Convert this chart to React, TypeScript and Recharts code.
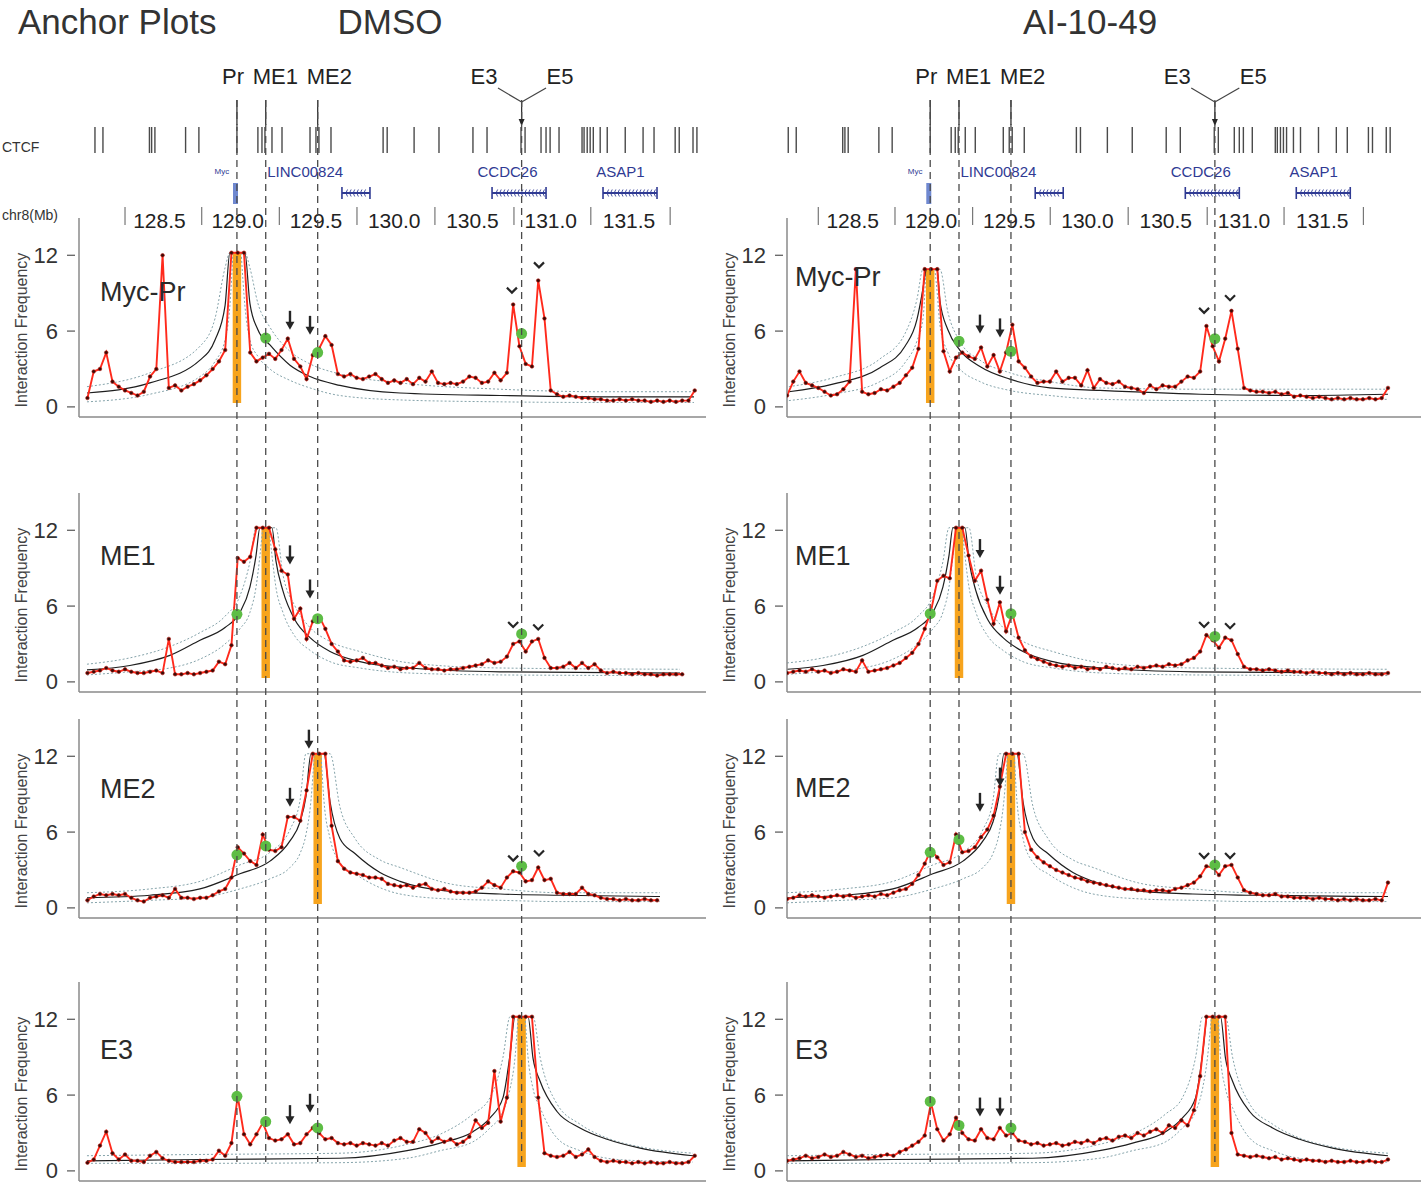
import React from 'react';
import {
  ComposedChart,
  Line,
  Scatter,
  XAxis,
  YAxis,
  ReferenceArea,
  ReferenceLine,
} from 'recharts';

const FONT = '"Liberation Sans", Arial, Helvetica, sans-serif';
const RED = '#ff2a1c';
const ORANGE = '#f7a41d';
const GREEN = '#5dbd45';
const BAND = '#86a4ab';
const INK = '#262626';
const NAVY = '#2f3a93';
const AXIS = '#8a8a8a';

// 4C bins along chr8 (Mb)
const POS = [
  128.04, 128.08, 128.12, 128.16, 128.2, 128.24, 128.28, 128.32, 128.36, 128.4,
  128.44, 128.48, 128.52, 128.56, 128.6, 128.64, 128.68, 128.72, 128.76, 128.8,
  128.84, 128.88, 128.92, 128.96, 129.0, 129.04, 129.08, 129.12, 129.16, 129.2,
  129.24, 129.28, 129.32, 129.36, 129.4, 129.44, 129.48, 129.52, 129.56, 129.6,
  129.64, 129.68, 129.72, 129.76, 129.8, 129.84, 129.88, 129.92, 129.96, 130.0,
  130.04, 130.08, 130.12, 130.16, 130.2, 130.24, 130.28, 130.32, 130.36, 130.4,
  130.44, 130.48, 130.52, 130.56, 130.6, 130.64, 130.68, 130.72, 130.76, 130.8,
  130.84, 130.88, 130.92, 130.96, 131.0, 131.04, 131.08, 131.12, 131.16, 131.2,
  131.24, 131.28, 131.32, 131.36, 131.4, 131.44, 131.48, 131.52, 131.56, 131.6,
  131.64, 131.68, 131.72, 131.76, 131.8, 131.84, 131.88, 131.92,
];

// viewpoints
const PR = 128.995;
const ME1 = 129.179;
const ME2 = 129.511;
const E3 = 130.814;

// ---- DMSO interaction frequencies ----
const MYC_PR_DMSO = [
  0.7, 2.8, 3.0, 4.3, 2.0, 1.6, 1.3, 1.1, 0.9, 1.2,
  2.4, 3.0, 12.0, 1.5, 1.7, 1.3, 1.6, 1.8, 2.1, 2.5,
  3.0, 3.6, 4.5, 12.2, 12.2, 12.2, 4.3, 3.6, 3.9, 4.2,
  3.8, 4.5, 5.4, 3.8, 3.2, 2.2, 4.1, 4.6, 5.6, 4.9,
  2.6, 2.4, 2.6, 2.3, 2.2, 2.4, 2.6, 2.2, 1.9, 2.1,
  1.9, 2.2, 1.8, 2.3, 2.0, 2.8, 1.9, 1.8, 1.9, 1.8,
  2.0, 2.4, 2.3, 1.9, 2.0, 2.7, 2.1, 2.7, 8.1, 4.8,
  3.4, 3.2, 10.0, 7.0, 1.3, 1.0, 0.8, 0.9, 0.8, 0.7,
  0.7, 0.6, 0.6, 0.5, 0.5, 0.6, 0.5, 0.6, 0.5, 0.5,
  0.4, 0.5, 0.4, 0.5, 0.4, 0.5, 0.5, 1.3,
];
const ME1_DMSO = [
  0.7, 0.8, 0.9, 1.1, 0.9, 0.8, 1.0, 0.8, 0.7, 0.7,
  0.8, 0.9, 0.7, 3.4, 0.6, 0.6, 0.7, 0.6, 0.7, 0.8,
  0.9, 1.6, 1.4, 2.9, 9.8, 9.5, 9.9, 12.2, 12.2, 12.2,
  10.5, 8.8, 8.5, 5.0, 5.8, 3.4, 4.8, 5.2, 4.2, 3.0,
  2.4, 1.7, 1.6, 1.7, 1.9, 1.5, 1.5, 1.3, 1.1, 1.2,
  1.0, 1.1, 1.1, 1.5, 1.1, 1.0, 1.0, 0.9, 1.0, 1.0,
  1.1, 1.2, 1.3, 1.4, 1.7, 1.5, 1.6, 2.0, 3.0, 3.2,
  2.4, 3.2, 3.4, 1.9, 1.1, 1.1, 1.2, 1.5, 1.1, 1.5,
  1.1, 1.4, 0.9, 0.7, 0.8, 0.7, 0.7, 0.6, 0.7, 0.6,
  0.6, 0.5, 0.6, 0.6, 0.6, 0.6, null, null,
];
const ME2_DMSO = [
  0.6, 0.9, 1.1, 1.0, 1.1, 1.0, 1.1, 0.8, 0.6, 0.5,
  0.8, 0.9, 1.0, 0.8, 1.5, 0.8, 0.8, 0.7, 0.8, 0.8,
  1.0, 1.3, 1.5, 2.4, 4.8, 4.3, 3.7, 3.4, 5.8, 4.6,
  4.5, 4.8, 7.2, 7.2, 6.9, 9.3, 12.2, 12.2, 12.2, 6.5,
  3.7, 3.1, 2.8, 2.7, 2.6, 2.4, 2.4, 2.3, 1.9, 1.8,
  1.7, 1.8, 1.6, 1.8, 1.9, 1.5, 1.4, 1.5, 1.3, 1.2,
  1.2, 1.2, 1.3, 1.6, 2.1, 1.8, 1.6, 2.4, 2.9, 2.8,
  2.1, 2.2, 3.2, 2.2, 2.3, 1.2, 1.1, 1.1, 1.1, 1.6,
  1.1, 1.0, 0.8, 0.7, 0.7, 0.6, 0.7, 0.6, 0.6, 0.7,
  0.6, 0.6, null, null, null, null, null, null,
];
const E3_DMSO = [
  0.65, 0.9, 2.0, 3.1, 1.4, 0.9, 1.3, 0.8, 0.8, 0.7,
  1.2, 1.5, 1.0, 0.8, 0.7, 0.7, 0.7, 0.7, 0.8, 0.8,
  0.9, 1.6, 1.2, 2.2, 5.9, 2.9, 2.1, 2.9, 3.8, 2.6,
  2.4, 2.5, 2.9, 2.1, 2.2, 2.9, 3.4, 3.0, 2.5, 2.6,
  2.2, 2.1, 2.2, 2.0, 2.2, 2.1, 2.0, 2.2, 2.0, 2.4,
  2.6, 2.3, 2.3, 3.3, 3.0, 2.3, 2.6, 2.3, 2.5, 2.1,
  2.3, 2.7, 4.0, 3.4, 3.8, 7.9, 3.9, 5.8, 12.2, 12.2,
  12.2, 12.2, 5.8, 1.4, 1.2, 1.1, 1.2, 1.5, 1.1, 1.3,
  1.7, 1.1, 0.8, 0.7, 0.8, 0.7, 0.7, 0.6, 0.7, 0.6,
  0.7, 0.6, 0.6, 0.7, 0.6, 0.6, 0.7, 1.2,
];

// ---- AI-10-49 interaction frequencies ----
const MYC_PR_AI = [
  null, 0.9, 2.0, 2.8, 1.9, 1.7, 1.5, 1.2, 0.9, 1.0,
  1.4, 2.0, 10.9, 1.2, 1.0, 1.1, 1.4, 1.3, 1.6, 1.9,
  2.5, 3.1, 4.6, 10.9, 10.9, 10.9, 4.4, 2.8, 3.9, 4.3,
  4.0, 3.8, 4.7, 3.2, 4.1, 2.8, 4.3, 6.5, 3.6, 3.1,
  2.4, 1.9, 2.0, 2.0, 2.8, 2.0, 2.3, 2.3, 1.7, 2.9,
  1.5, 2.2, 1.9, 1.8, 2.0, 1.6, 1.5, 1.4, 1.1, 1.7,
  1.4, 1.7, 1.6, 1.6, 2.0, 2.4, 2.3, 2.8, 6.4, 4.8,
  3.6, 5.4, 7.6, 4.6, 1.5, 1.3, 1.2, 1.2, 1.1, 1.2,
  1.0, 1.1, 0.8, 0.9, 0.8, 0.7, 0.8, 0.7, 0.6, 0.7,
  0.6, 0.7, 0.6, 0.6, 0.7, 0.6, 0.7, 1.5,
];
const ME1_AI = [
  null, 0.7, 0.8, 0.9, 0.8, 1.0, 0.8, 0.9, 0.7, 0.8,
  1.0, 0.9, 0.8, 1.7, 0.8, 0.9, 1.0, 1.1, 1.3, 1.5,
  1.9, 2.3, 3.0, 4.2, 5.6, 8.0, 8.4, 8.2, 12.2, 12.2,
  10.0, 8.0, 8.8, 6.5, 4.6, 6.3, 4.0, 5.4, 3.5, 2.5,
  2.0, 1.8, 1.6, 1.4, 1.3, 1.2, 1.3, 1.1, 1.2, 1.0,
  1.1, 1.0, 1.2, 1.1, 1.0, 1.1, 1.0, 1.2, 1.1, 1.2,
  1.3, 1.2, 1.4, 1.3, 1.4, 1.7, 1.9, 2.4, 3.7, 3.3,
  2.7, 3.5, 3.3, 2.2, 1.2, 1.0, 1.0, 0.9, 1.0, 0.9,
  0.8, 0.9, 0.8, 0.8, 0.7, 0.8, 0.7, 0.7, 0.6, 0.7,
  0.6, 0.7, 0.6, 0.6, 0.7, 0.6, 0.6, 0.7,
];
const ME2_AI = [
  null, 0.7, 0.8, 1.0, 0.9, 1.0, 0.9, 0.8, 0.9, 1.0,
  0.9, 1.0, 0.8, 0.9, 1.0, 0.9, 1.1, 1.0, 1.2, 1.4,
  1.5, 1.9, 2.6, 3.5, 4.6, 4.0, 3.4, 3.6, 5.8, 4.4,
  4.5, 4.8, 5.6, 6.2, 7.3, 9.6, 12.2, 12.2, 12.2, 6.0,
  4.6, 4.0, 3.6, 3.3, 3.0, 2.8, 2.6, 2.4, 2.3, 2.1,
  2.0, 1.9, 1.8, 1.7, 1.6, 1.5, 1.5, 1.4, 1.4, 1.3,
  1.4, 1.4, 1.3, 1.5, 1.6, 1.8, 2.0, 2.5, 3.3, 3.2,
  2.6, 3.3, 3.4, 2.4, 1.4, 1.2, 1.1, 1.0, 1.0, 1.1,
  0.9, 0.9, 0.8, 0.8, 0.8, 0.7, 0.8, 0.7, 0.7, 0.6,
  0.7, 0.6, 0.7, 0.6, 0.6, 0.7, 0.6, 2.0,
];
const E3_AI = [
  null, 0.8, 0.9, 1.0, 1.2, 1.0, 1.1, 1.3, 1.1, 1.2,
  1.5, 1.3, 1.1, 1.2, 1.0, 1.1, 1.2, 1.3, 1.2, 1.5,
  1.7, 2.0, 2.3, 2.8, 5.4, 3.3, 2.4, 2.9, 4.2, 3.0,
  2.5, 2.4, 3.3, 2.6, 2.5, 3.4, 2.8, 3.0, 2.4, 2.3,
  2.1, 2.2, 2.0, 2.1, 2.2, 2.0, 2.1, 2.3, 2.2, 2.4,
  2.2, 2.5, 2.6, 2.4, 2.7, 2.8, 2.6, 3.0, 2.8, 3.1,
  3.3, 3.0, 3.6, 3.4, 4.0, 3.6, 4.8, 7.5, 12.2, 12.2,
  12.2, 12.2, 3.0, 1.3, 1.2, 1.1, 1.2, 1.1, 1.0, 1.1,
  0.9, 1.0, 0.9, 0.8, 0.9, 0.8, 0.8, 0.7, 0.8, 0.7,
  0.7, 0.8, 0.7, 0.7, 0.8, 0.7, 0.7, 0.9,
];

// ---- expected (black) and confidence band (dotted) ----
const FIT_POS_MYC_DMSO = [128.037, 128.439, 128.759, 128.855, 128.919, 128.95, 128.97, 128.995, 129.022, 129.046, 129.078, 129.129, 129.206, 129.334, 129.462, 129.653, 130.037, 130.676, 131.315, 131.915];
const FIT_MID_MYC_DMSO = [1.1, 1.9, 3.7, 5.3, 8.0, 12.2, 12.2, null, 12.2, 12.2, 8.2, 6.1, 4.9, 3.3, 2.4, 1.7, 1.1, 0.9, 0.8, 0.8];
const FIT_HI_MYC_DMSO = [1.6, 2.7, 4.8, 7.0, 11.0, 12.2, 12.2, null, 12.2, 12.2, 11.0, 8.2, 6.3, 4.4, 3.4, 2.6, 1.9, 1.4, 1.2, 1.2];
const FIT_LO_MYC_DMSO = [0.4, 1.0, 2.4, 3.6, 5.3, 8.0, 12.2, null, 12.2, 8.0, 5.3, 4.0, 3.0, 2.1, 1.5, 0.9, 0.55, 0.4, 0.35, 0.35];

const FIT_POS_ME1_DMSO = [128.037, 128.311, 128.567, 128.759, 128.919, 129.014, 129.078, 129.117, 129.142, 129.16, 129.179, 129.2, 129.219, 129.244, 129.289, 129.366, 129.462, 129.59, 129.781, 130.101, 130.676, 131.826];
const FIT_MID_ME1_DMSO = [0.95, 1.3, 2.1, 3.3, 4.3, 5.5, 7.5, 10.0, 12.2, 12.2, null, 12.2, 12.2, 9.6, 7.2, 4.9, 3.5, 2.4, 1.6, 1.1, 0.8, 0.7];
const FIT_HI_ME1_DMSO = [1.4, 1.9, 2.8, 3.9, 5.2, 6.8, 9.5, 12.2, 12.2, 12.2, null, 12.2, 12.2, 12.2, 8.5, 6.0, 4.3, 3.2, 2.4, 1.5, 1.1, 1.0];
const FIT_LO_ME1_DMSO = [0.55, 0.8, 1.1, 1.8, 3.0, 4.2, 5.5, 7.5, 10.0, 12.2, null, 12.2, 10.0, 7.5, 5.5, 3.6, 2.5, 1.6, 1.1, 0.7, 0.55, 0.5];

const FIT_POS_ME2_DMSO = [128.037, 128.439, 128.759, 129.014, 129.206, 129.334, 129.398, 129.436, 129.468, 129.49, 129.511, 129.532, 129.551, 129.59, 129.653, 129.749, 129.909, 130.037, 130.357, 130.676, 131.06, 131.698];
const FIT_MID_ME2_DMSO = [0.8, 1.0, 1.5, 2.7, 3.7, 5.3, 6.8, 8.8, 12.2, 12.2, null, 12.2, 12.2, 8.4, 5.5, 4.3, 2.8, 2.1, 1.3, 1.1, 1.0, 0.9];
const FIT_HI_ME2_DMSO = [1.2, 1.5, 2.1, 3.4, 4.4, 6.2, 8.5, 12.2, 12.2, 12.2, null, 12.2, 12.2, 12.2, 8.0, 5.5, 3.8, 3.2, 1.9, 1.5, 1.2, 1.2];
const FIT_LO_ME2_DMSO = [0.4, 0.6, 0.8, 1.5, 2.3, 3.2, 4.3, 5.8, 8.5, 12.2, null, 12.2, 8.5, 5.5, 3.6, 2.7, 1.6, 1.1, 0.7, 0.6, 0.5, 0.5];

const FIT_POS_E3_DMSO = [128.037, 128.759, 129.653, 130.082, 130.293, 130.503, 130.612, 130.695, 130.74, 130.772, 130.792, 130.814, 130.836, 130.855, 130.887, 130.932, 131.04, 131.187, 131.36, 131.571, 131.909];
const FIT_MID_E3_DMSO = [0.8, 0.9, 1.0, 1.6, 2.2, 3.1, 4.2, 5.8, 9.2, 12.2, 12.2, null, 12.2, 12.2, 8.9, 7.1, 4.7, 3.4, 2.5, 1.8, 1.2];
const FIT_HI_E3_DMSO = [1.2, 1.3, 1.4, 2.1, 2.9, 4.5, 5.8, 9.0, 12.2, 12.2, 12.2, null, 12.2, 12.2, 12.2, 9.0, 5.3, 3.7, 2.6, 1.9, 1.4];
const FIT_LO_E3_DMSO = [0.6, 0.6, 0.65, 1.0, 1.6, 2.3, 3.4, 4.7, 6.5, 9.0, 12.2, null, 12.2, 9.0, 6.5, 5.0, 2.6, 1.6, 1.0, 0.8, 0.7];

const FIT_POS_MYC_AI = [128.092, 128.373, 128.674, 128.834, 128.91, 128.949, 128.968, 128.995, 129.025, 129.04, 129.057, 129.108, 129.184, 129.313, 129.504, 129.76, 130.08, 130.719, 131.358, 131.92];
const FIT_MID_MYC_AI = [1.2, 1.8, 3.1, 4.8, 6.9, 9.4, 10.9, null, 10.9, 10.9, 8.4, 6.1, 4.5, 3.2, 2.2, 1.5, 1.3, 1.0, 0.9, 1.0];
const FIT_HI_MYC_AI = [1.6, 2.3, 3.8, 5.8, 8.5, 10.9, 10.9, null, 10.9, 10.9, 10.9, 7.5, 5.2, 3.7, 2.7, 2.0, 1.5, 1.4, 1.4, 1.4];
const FIT_LO_MYC_AI = [0.5, 1.0, 2.0, 3.5, 5.2, 7.0, 10.9, null, 10.9, 9.0, 6.5, 4.3, 3.0, 2.0, 1.3, 0.9, 0.6, 0.5, 0.5, 0.6];

const FIT_POS_ME1_AI = [128.08, 128.31, 128.565, 128.757, 128.917, 129.012, 129.076, 129.115, 129.14, 129.16, 129.179, 129.2, 129.217, 129.243, 129.287, 129.364, 129.46, 129.588, 129.779, 130.099, 130.674, 131.92];
const FIT_MID_ME1_AI = [1.0, 1.3, 2.1, 3.3, 4.3, 5.5, 7.5, 10.0, 12.2, 12.2, null, 12.2, 12.2, 9.6, 7.2, 4.9, 3.5, 2.4, 1.6, 1.1, 0.8, 0.7];
const FIT_HI_ME1_AI = [1.5, 1.9, 2.8, 3.9, 5.2, 6.8, 9.5, 12.2, 12.2, 12.2, null, 12.2, 12.2, 12.2, 8.5, 6.0, 4.3, 3.2, 2.4, 1.5, 1.1, 1.0];
const FIT_LO_ME1_AI = [0.6, 0.8, 1.1, 1.8, 3.0, 4.2, 5.5, 7.5, 10.0, 12.2, null, 12.2, 10.0, 7.5, 5.5, 3.6, 2.5, 1.6, 1.1, 0.7, 0.55, 0.5];

const FIT_POS_ME2_AI = [128.08, 128.437, 128.757, 129.012, 129.204, 129.332, 129.396, 129.434, 129.466, 129.49, 129.511, 129.532, 129.549, 129.588, 129.652, 129.747, 129.907, 130.035, 130.354, 130.674, 131.057, 131.92];
const FIT_MID_ME2_AI = [0.8, 1.0, 1.5, 2.7, 3.7, 5.3, 6.8, 8.8, 12.2, 12.2, null, 12.2, 12.2, 8.4, 5.5, 4.3, 2.8, 2.1, 1.3, 1.1, 1.0, 0.9];
const FIT_HI_ME2_AI = [1.2, 1.5, 2.1, 3.4, 4.4, 6.2, 8.5, 12.2, 12.2, 12.2, null, 12.2, 12.2, 12.2, 8.0, 5.5, 3.8, 3.2, 1.9, 1.5, 1.2, 1.2];
const FIT_LO_ME2_AI = [0.4, 0.6, 0.8, 1.5, 2.3, 3.2, 4.3, 5.8, 8.5, 12.2, null, 12.2, 8.5, 5.5, 3.6, 2.7, 1.6, 1.1, 0.7, 0.6, 0.5, 0.5];

const FIT_POS_E3_AI = [128.08, 128.754, 129.649, 130.077, 130.288, 130.499, 130.607, 130.691, 130.735, 130.767, 130.792, 130.814, 130.836, 130.85, 130.882, 130.927, 131.036, 131.183, 131.355, 131.566, 131.92];
const FIT_MID_E3_AI = [0.8, 0.9, 1.0, 1.6, 2.2, 3.1, 4.2, 5.8, 9.2, 12.2, 12.2, null, 12.2, 12.2, 8.9, 7.1, 4.7, 3.4, 2.5, 1.8, 1.2];
const FIT_HI_E3_AI = [1.2, 1.3, 1.4, 2.1, 2.9, 4.5, 5.8, 9.0, 12.2, 12.2, 12.2, null, 12.2, 12.2, 12.2, 9.0, 5.3, 3.7, 2.6, 1.9, 1.4];
const FIT_LO_E3_AI = [0.6, 0.6, 0.65, 1.0, 1.6, 2.3, 3.4, 4.7, 6.5, 9.0, 12.2, null, 12.2, 9.0, 6.5, 5.0, 2.6, 1.6, 1.0, 0.8, 0.7];

// ---- marks: [Mb, frequency] ----
const GREEN_MYC_DMSO = [[ME1, 5.45], [ME2, 4.3], [E3, 5.8]];
const GREEN_ME1_DMSO = [[PR, 5.35], [ME2, 5.0], [E3, 3.8]];
const GREEN_ME2_DMSO = [[PR, 4.2], [ME1, 4.9], [E3, 3.3]];
const GREEN_E3_DMSO = [[PR, 5.9], [ME1, 3.9], [ME2, 3.4]];
const GREEN_MYC_AI = [[ME1, 5.2], [ME2, 4.4], [E3, 5.4]];
const GREEN_ME1_AI = [[PR, 5.4], [ME2, 5.4], [E3, 3.6]];
const GREEN_ME2_AI = [[PR, 4.4], [ME1, 5.4], [E3, 3.4]];
const GREEN_E3_AI = [[PR, 5.5], [ME1, 3.6], [ME2, 3.4]];

const ARROW_MYC_DMSO = [[129.334, 6.1], [129.462, 5.7]];
const ARROW_ME1_DMSO = [[129.334, 9.3], [129.462, 6.6]];
const ARROW_ME2_DMSO = [[129.334, 8.0], [129.455, 12.6]];
const ARROW_E3_DMSO = [[129.334, 3.7], [129.462, 4.6]];
const ARROW_MYC_AI = [[129.313, 5.8], [129.441, 5.5]];
const ARROW_ME1_AI = [[129.313, 9.8], [129.441, 6.9]];
const ARROW_ME2_AI = [[129.313, 7.6], [129.441, 9.6]];
const ARROW_E3_AI = [[129.313, 4.3], [129.441, 4.3]];

const CHEV_MYC_DMSO = [[130.752, 9.2], [130.925, 11.2]];
const CHEV_ME1_DMSO = [[130.76, 4.5], [130.92, 4.3]];
const CHEV_ME2_DMSO = [[130.76, 3.9], [130.925, 4.3]];
const CHEV_MYC_AI = [[130.745, 7.6], [130.911, 8.6]];
const CHEV_ME1_AI = [[130.745, 4.5], [130.911, 4.4]];
const CHEV_ME2_AI = [[130.745, 4.1], [130.911, 4.1]];

// ---- header tracks ----
const CTCF = [
  128.088, 128.139, 128.436, 128.45, 128.471, 128.667, 128.752, 128.995, 129.129, 129.155,
  129.174, 129.219, 129.283, 129.462, 129.5, 129.519, 129.596, 129.929, 129.955, 130.127,
  130.286, 130.503, 130.593, 130.81, 130.836, 130.938, 130.97, 130.996, 131.053, 131.2,
  131.213, 131.233, 131.252, 131.272, 131.316, 131.361, 131.476, 131.59, 131.66, 131.795,
  131.821, 131.909, 131.934,
];
const GENES = [
  { name: 'LINC00824', start: 129.666, end: 129.845, labelAt: 129.431 },
  { name: 'CCDC26', start: 130.625, end: 130.97, labelAt: 130.724 },
  { name: 'ASAP1', start: 131.334, end: 131.679, labelAt: 131.446 },
];
const MYC_GENE = { start: 128.97, end: 129.002, labelAt: 128.899 };
const FEATURE_LABELS = [
  { label: 'Pr', at: 128.97 },
  { label: 'ME1', at: 129.241 },
  { label: 'ME2', at: 129.586 },
  { label: 'E3', at: 130.574 },
  { label: 'E5', at: 131.059 },
];
const V_ARMS = [130.663, 130.97];
const AXIS_LABELS = [128.5, 129.0, 129.5, 130.0, 130.5, 131.0, 131.5];
const AXIS_MARKS = [128.28, 128.77, 129.266, 129.762, 130.26, 130.765, 131.256, 131.763];

const ROW_TOPS = [218, 493, 719, 982];
const PLOT_H = 199;
const Y_DOMAIN = [-0.8, 14.95];
const BAR_HALF = 0.027;

const COLUMNS = [
  { key: 'dmso', title: 'DMSO', left: 0, width: 710, right: 4, domain: [127.986, 131.992], nameX: 100 },
  { key: 'ai', title: 'AI-10-49', left: 708, width: 713, right: 0, domain: [128.08, 132.131], nameX: 795 },
];

const pairs = (arr) => arr.map(([x, v]) => ({ x, v }));
const zip = (xs, vs) => xs.map((x, i) => ({ x, v: vs[i] }));

const PANELS = {
  dmso: [
    { name: 'Myc-Pr', values: MYC_PR_DMSO, anchor: PR, cap: 12.2, fit: [FIT_POS_MYC_DMSO, FIT_MID_MYC_DMSO, FIT_HI_MYC_DMSO, FIT_LO_MYC_DMSO], greens: GREEN_MYC_DMSO, arrows: ARROW_MYC_DMSO, chevrons: CHEV_MYC_DMSO, nameY: 294 },
    { name: 'ME1', values: ME1_DMSO, anchor: ME1, cap: 12.2, fit: [FIT_POS_ME1_DMSO, FIT_MID_ME1_DMSO, FIT_HI_ME1_DMSO, FIT_LO_ME1_DMSO], greens: GREEN_ME1_DMSO, arrows: ARROW_ME1_DMSO, chevrons: CHEV_ME1_DMSO, nameY: 558 },
    { name: 'ME2', values: ME2_DMSO, anchor: ME2, cap: 12.2, fit: [FIT_POS_ME2_DMSO, FIT_MID_ME2_DMSO, FIT_HI_ME2_DMSO, FIT_LO_ME2_DMSO], greens: GREEN_ME2_DMSO, arrows: ARROW_ME2_DMSO, chevrons: CHEV_ME2_DMSO, nameY: 791 },
    { name: 'E3', values: E3_DMSO, anchor: E3, cap: 12.2, fit: [FIT_POS_E3_DMSO, FIT_MID_E3_DMSO, FIT_HI_E3_DMSO, FIT_LO_E3_DMSO], greens: GREEN_E3_DMSO, arrows: ARROW_E3_DMSO, chevrons: [], nameY: 1052 },
  ],
  ai: [
    { name: 'Myc-Pr', values: MYC_PR_AI, anchor: PR, cap: 10.9, fit: [FIT_POS_MYC_AI, FIT_MID_MYC_AI, FIT_HI_MYC_AI, FIT_LO_MYC_AI], greens: GREEN_MYC_AI, arrows: ARROW_MYC_AI, chevrons: CHEV_MYC_AI, nameY: 279 },
    { name: 'ME1', values: ME1_AI, anchor: ME1, cap: 12.2, fit: [FIT_POS_ME1_AI, FIT_MID_ME1_AI, FIT_HI_ME1_AI, FIT_LO_ME1_AI], greens: GREEN_ME1_AI, arrows: ARROW_ME1_AI, chevrons: CHEV_ME1_AI, nameY: 558 },
    { name: 'ME2', values: ME2_AI, anchor: ME2, cap: 12.2, fit: [FIT_POS_ME2_AI, FIT_MID_ME2_AI, FIT_HI_ME2_AI, FIT_LO_ME2_AI], greens: GREEN_ME2_AI, arrows: ARROW_ME2_AI, chevrons: CHEV_ME2_AI, nameY: 790 },
    { name: 'E3', values: E3_AI, anchor: E3, cap: 12.2, fit: [FIT_POS_E3_AI, FIT_MID_E3_AI, FIT_HI_E3_AI, FIT_LO_E3_AI], greens: GREEN_E3_AI, arrows: ARROW_E3_AI, chevrons: [], nameY: 1052 },
  ],
};

function YTick({ y, payload }) {
  return (
    <g>
      <line x1={67} x2={75} y1={y} y2={y} stroke="#555" strokeWidth={1.2} />
      <text x={58} y={y} textAnchor="end" dominantBaseline="central" fontSize={22} fill="#333" fontFamily={FONT}>
        {payload.value}
      </text>
    </g>
  );
}

const GreenDot = ({ cx, cy }) => <circle cx={cx} cy={cy} r={5.5} fill={GREEN} />;

const ArrowDown = ({ cx, cy }) => (
  <g>
    <line x1={cx} x2={cx} y1={cy - 19} y2={cy - 6} stroke={INK} strokeWidth={2.4} />
    <path d={`M${cx - 4.5},${cy - 8} L${cx + 4.5},${cy - 8} L${cx},${cy} Z`} fill={INK} />
  </g>
);

const Chevron = ({ cx, cy }) => (
  <path d={`M${cx - 5},${cy - 3} L${cx},${cy + 2} L${cx + 5},${cy - 3}`} stroke={INK} strokeWidth={2.2} fill="none" />
);

function Panel({ col, top, p }) {
  const [fx, fmid, fhi, flo] = p.fit;
  const noAnim = { isAnimationActive: false };
  return (
    <div style={{ position: 'absolute', left: col.left, top, width: col.width, height: PLOT_H + 1 }}>
      <ComposedChart width={col.width} height={PLOT_H + 1} margin={{ top: 0, right: col.right, bottom: 0, left: 0 }}>
        <XAxis type="number" dataKey="x" domain={col.domain} allowDataOverflow tick={false} tickLine={false} height={1} axisLine={{ stroke: AXIS, strokeWidth: 1.5 }} />
        <YAxis
          type="number"
          domain={Y_DOMAIN}
          allowDataOverflow
          ticks={[0, 6, 12]}
          width={79}
          tickLine={false}
          axisLine={{ stroke: AXIS, strokeWidth: 1.5 }}
          tick={(props) => <YTick {...props} />}
        />
        <ReferenceArea x1={p.anchor - BAR_HALF} x2={p.anchor + BAR_HALF} y1={0.3} y2={p.cap} fill={ORANGE} fillOpacity={1} stroke="none" />
        <Line data={zip(fx, fhi)} dataKey="v" type="monotone" stroke={BAND} strokeWidth={1} strokeDasharray="2 2" dot={false} {...noAnim} />
        <Line data={zip(fx, flo)} dataKey="v" type="monotone" stroke={BAND} strokeWidth={1} strokeDasharray="2 2" dot={false} {...noAnim} />
        <Line data={zip(fx, fmid)} dataKey="v" type="monotone" stroke="#1e1e1e" strokeWidth={1.2} dot={false} {...noAnim} />
        <Line
          data={zip(POS, p.values)}
          dataKey="v"
          type="linear"
          stroke={RED}
          strokeWidth={1.9}
          dot={{ r: 1.8, fill: '#3a0a06', stroke: '#b3140b', strokeWidth: 0.6 }}
          {...noAnim}
        />
        <Scatter data={pairs(p.greens)} dataKey="v" shape={GreenDot} {...noAnim} />
        <Scatter data={pairs(p.arrows)} dataKey="v" shape={ArrowDown} {...noAnim} />
        <Scatter data={pairs(p.chevrons)} dataKey="v" shape={Chevron} {...noAnim} />
      </ComposedChart>
      <div style={{ position: 'absolute', left: col.nameX - col.left, top: p.nameY - top - 15, fontSize: 27, lineHeight: '27px', color: '#2a2a2a', whiteSpace: 'nowrap' }}>
        {p.name}
      </div>
      <div
        style={{
          position: 'absolute',
          left: 22 - 100,
          top: PLOT_H / 2 + 12 - 9,
          width: 200,
          height: 18,
          lineHeight: '18px',
          fontSize: 16,
          color: '#444',
          textAlign: 'center',
          transform: 'rotate(-90deg)',
          whiteSpace: 'nowrap',
        }}
      >
        Interaction Frequency
      </div>
    </div>
  );
}

const HEADER_TOP = 55;
const HEADER_H = 185;

const CtcfTick = ({ cx, cy }) => <line x1={cx} x2={cx} y1={cy - 13} y2={cy + 13} stroke="#4a4a4a" strokeWidth={1.4} />;
const AxisMark = ({ cx, cy }) => <line x1={cx} x2={cx} y1={cy - 9} y2={cy + 9} stroke="#777" strokeWidth={1.2} />;
const AxisLabel = ({ cx, cy, payload }) => (
  <text x={cx} y={cy} textAnchor="middle" fontSize={21} fill="#222" fontFamily={FONT}>
    {payload.x.toFixed(1)}
  </text>
);
const FeatureLabel = ({ cx, cy, payload }) => (
  <text x={cx} y={cy} textAnchor="middle" fontSize={22} fill="#222" fontFamily={FONT}>
    {payload.label}
  </text>
);
const GeneLabel = ({ cx, cy, payload }) => (
  <text x={cx} y={cy} textAnchor="middle" dominantBaseline="central" fontSize={payload.size} fill={NAVY} fontFamily={FONT}>
    {payload.label}
  </text>
);
const StemHead = ({ cx, cy }) => <path d={`M${cx - 3},${cy - 7} L${cx + 3},${cy - 7} L${cx},${cy} Z`} fill={INK} />;

function GeneGlyph({ x, y, width, height }) {
  const cy = y + height / 2;
  const marks = [];
  for (let t = x + 4; t < x + width - 3; t += 3.6) {
    marks.push(<path key={t} d={`M${t + 1.6},${cy - 3.5} L${t},${cy} L${t + 1.6},${cy + 3.5}`} stroke={NAVY} strokeWidth={0.9} fill="none" />);
  }
  return (
    <g>
      <line x1={x} x2={x + width} y1={cy} y2={cy} stroke={NAVY} strokeWidth={2} />
      <line x1={x} x2={x} y1={cy - 6} y2={cy + 6} stroke={NAVY} strokeWidth={1.6} />
      <line x1={x + width} x2={x + width} y1={cy - 6} y2={cy + 6} stroke={NAVY} strokeWidth={1.6} />
      {marks}
    </g>
  );
}

function Header({ col }) {
  const noAnim = { isAnimationActive: false };
  const ctcf = CTCF.map((x) => ({ x, v: 85 }));
  const feats = FEATURE_LABELS.map((f) => ({ x: f.at, v: 29, label: f.label }));
  const genes = [
    ...GENES.map((g) => ({ x: g.labelAt, v: 116, label: g.name, size: 15 })),
    { x: MYC_GENE.labelAt, v: 116, label: 'Myc', size: 8 },
  ];
  const marks = AXIS_MARKS.map((x) => ({ x, v: 161 }));
  const labels = AXIS_LABELS.map((x) => ({ x, v: 173 }));
  return (
    <div style={{ position: 'absolute', left: col.left, top: HEADER_TOP }}>
      <ComposedChart width={col.width} height={HEADER_H} margin={{ top: 0, right: col.right, bottom: 0, left: 79 }}>
        <XAxis type="number" dataKey="x" domain={col.domain} allowDataOverflow hide />
        <YAxis type="number" domain={[0, HEADER_H]} reversed allowDataOverflow hide />
        <ReferenceArea x1={MYC_GENE.start} x2={MYC_GENE.end} y1={128} y2={149} fill="#6f88d0" fillOpacity={1} stroke="none" />
        {GENES.map((g) => (
          <ReferenceArea key={g.name} x1={g.start} x2={g.end} y1={132} y2={144} shape={GeneGlyph} />
        ))}
        {[PR, ME1, ME2].map((a) => (
          <ReferenceLine key={a} segment={[{ x: a, y: 45 }, { x: a, y: 70 }]} stroke="#333" strokeWidth={1.3} />
        ))}
        {V_ARMS.map((a) => (
          <ReferenceLine key={a} segment={[{ x: a, y: 33 }, { x: E3, y: 47 }]} stroke="#444" strokeWidth={1.2} />
        ))}
        <ReferenceLine segment={[{ x: E3, y: 47 }, { x: E3, y: 68 }]} stroke="#333" strokeWidth={1.3} />
        <Scatter data={[{ x: E3, v: 71 }]} dataKey="v" shape={StemHead} {...noAnim} />
        <Scatter data={ctcf} dataKey="v" shape={CtcfTick} {...noAnim} />
        <Scatter data={feats} dataKey="v" shape={FeatureLabel} {...noAnim} />
        <Scatter data={genes} dataKey="v" shape={GeneLabel} {...noAnim} />
        <Scatter data={marks} dataKey="v" shape={AxisMark} {...noAnim} />
        <Scatter data={labels} dataKey="v" shape={AxisLabel} {...noAnim} />
      </ComposedChart>
    </div>
  );
}

// dashed guides through every viewpoint, from the header down to the last row
const GUIDE_TOP = 100;
const GUIDE_H = 1062;
const GuideLine = ({ cx, cy }) => (
  <line x1={cx} x2={cx} y1={cy} y2={cy + GUIDE_H} stroke="#4a4a4a" strokeWidth={1.3} strokeDasharray="7 5" />
);

function Guides({ col }) {
  const anchors = [PR, ME1, ME2, E3].map((x) => ({ x, v: 0 }));
  return (
    <div style={{ position: 'absolute', left: col.left, top: GUIDE_TOP, pointerEvents: 'none' }}>
      <ComposedChart width={col.width} height={GUIDE_H + 4} margin={{ top: 0, right: col.right, bottom: 4, left: 79 }}>
        <XAxis type="number" dataKey="x" domain={col.domain} allowDataOverflow hide />
        <YAxis type="number" domain={[0, 1]} reversed hide />
        <Scatter data={anchors} dataKey="v" shape={GuideLine} isAnimationActive={false} />
      </ComposedChart>
    </div>
  );
}

export default function App() {
  return (
    <div style={{ position: 'absolute', left: 0, top: 0, width: 1421, height: 1189, background: '#fff', fontFamily: FONT, overflow: 'hidden' }}>
      <div style={{ position: 'absolute', left: 18, top: 3, fontSize: 35, lineHeight: '38px', color: '#333' }}>Anchor Plots</div>
      {COLUMNS.map((col) => (
        <div key={col.key}>
          <div style={{ position: 'absolute', left: col.key === 'dmso' ? 290 : 990, width: 200, top: 3, fontSize: 35, lineHeight: '38px', color: '#333', textAlign: 'center' }}>
            {col.title}
          </div>
          <Header col={col} />
          {PANELS[col.key].map((p, i) => (
            <Panel key={p.name} col={col} top={ROW_TOPS[i]} p={p} />
          ))}
          <Guides col={col} />
        </div>
      ))}
      <div style={{ position: 'absolute', left: 2, top: 138, fontSize: 14, lineHeight: '18px', color: '#333' }}>CTCF</div>
      <div style={{ position: 'absolute', left: 2, top: 206, fontSize: 14, lineHeight: '18px', color: '#333' }}>chr8(Mb)</div>
    </div>
  );
}
